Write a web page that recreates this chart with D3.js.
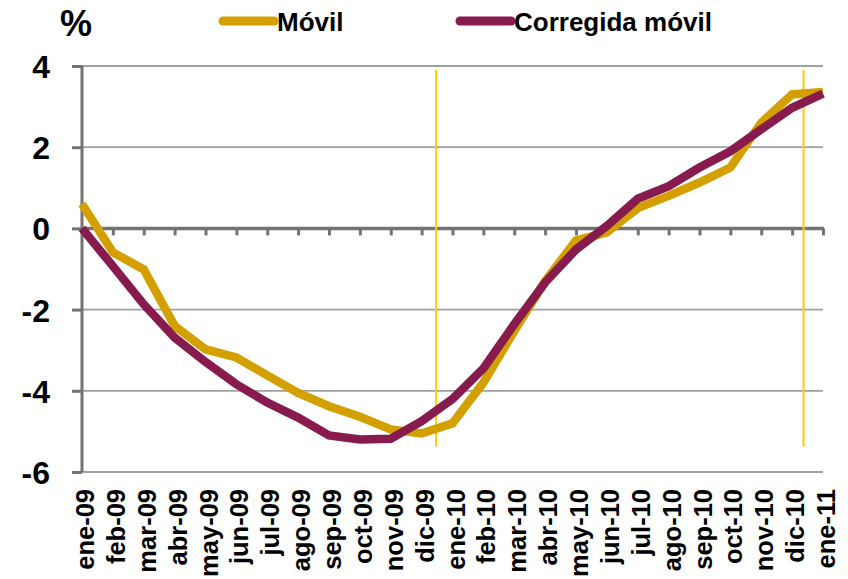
<!DOCTYPE html>
<html><head><meta charset="utf-8">
<script src="https://cdn.jsdelivr.net/npm/d3@7"></script>
<style>
html,body{margin:0;padding:0;background:#fff;}
svg text{font-family:"Liberation Sans",Arial,sans-serif;font-weight:bold;fill:#000;}
</style></head>
<body><svg id="c" width="848" height="579"></svg>
<script>
const categories = ["ene-09","feb-09","mar-09","abr-09","may-09","jun-09","jul-09","ago-09","sep-09","oct-09","nov-09","dic-09",
  "ene-10","feb-10","mar-10","abr-10","may-10","jun-10","jul-10","ago-10","sep-10","oct-10","nov-10","dic-10","ene-11"];
const movil = [0.6,-0.59,-1.01,-2.4,-2.98,-3.18,-3.62,-4.05,-4.38,-4.64,-4.95,-5.05,
  -4.8,-3.8,-2.53,-1.3,-0.3,-0.1,0.5,0.8,1.13,1.5,2.6,3.3,3.36];
const corregida = [0.0,-0.93,-1.87,-2.69,-3.29,-3.84,-4.29,-4.66,-5.1,-5.2,-5.18,-4.75,
  -4.2,-3.45,-2.36,-1.33,-0.52,0.06,0.73,1.04,1.5,1.9,2.44,2.97,3.32];
const yTicks = [4,2,0,-2,-4,-6];
const yTickLabels = ["4","2","0","-2","-4","-6"];
const markerPos = [11.47, 23.37];   // vertical marker positions (category index units)
const markerRange = [3.9, -5.37];
const seriesNames = ["Móvil","Corregida móvil"];
const colors = ["#D3A000","#881B4E"];

const svg = d3.select("#c");
const x = d3.scaleLinear().domain([0, categories.length-1]).range([82, 823]);
const y = d3.scaleLinear().domain([-6, 4]).range([472, 66]);

// gridlines
svg.append("g").selectAll("line").data(yTicks.filter(d=>d!==0)).join("line")
  .attr("x1", 82).attr("x2", 823).attr("y1", d=>y(d)).attr("y2", d=>y(d))
  .attr("stroke", "#a0a0a0").attr("stroke-width", 1.8);

// y axis
const yAxis = svg.append("g").attr("transform", "translate(82,0)")
  .call(d3.axisLeft(y).tickValues(yTicks).tickSize(10).tickPadding(0)
    .tickFormat((d,i)=>yTickLabels[i]));
yAxis.select(".domain").attr("stroke", "#737373").attr("stroke-width", 3).attr("d", `M0,${y(4)}V${y(-6)}`);
yAxis.selectAll(".tick line").attr("stroke", "#737373").attr("stroke-width", 3);
yAxis.selectAll(".tick text").attr("x", -32).attr("font-size", 32).attr("dy", "0.36em")
  .style("font-family", "'Liberation Sans',Arial,sans-serif").style("font-weight", "bold").attr("fill", "#000");

// x axis at zero
const xAxis = svg.append("g").attr("transform", `translate(0,${y(0)})`)
  .call(d3.axisBottom(x).tickValues(d3.range(categories.length)).tickSize(7).tickFormat(""));
xAxis.select(".domain").attr("stroke", "#737373").attr("stroke-width", 3.5).attr("d", `M82,0H824`);
xAxis.selectAll(".tick line").attr("stroke", "#737373").attr("stroke-width", 3);

// category labels
svg.append("g").selectAll("text").data(categories).join("text")
  .attr("transform", (d,i)=>`translate(${x(i)+3},489) rotate(-90)`)
  .attr("text-anchor", "end").attr("dominant-baseline", "central")
  .attr("font-size", 25.5).text(d=>d);

// marker lines
svg.append("g").selectAll("line").data(markerPos).join("line")
  .attr("x1", d=>x(d)).attr("x2", d=>x(d))
  .attr("y1", y(markerRange[0])).attr("y2", y(markerRange[1]))
  .attr("stroke", "#FFCC00").attr("stroke-width", 2);

// series lines
const line = d3.line().x((d,i)=>x(i)).y(d=>y(d));
[movil, corregida].forEach((s,k)=>{
  svg.append("path").datum(s).attr("d", line).attr("fill","none")
    .attr("stroke", colors[k]).attr("stroke-width", 8.5).attr("stroke-linejoin","miter");
});

// title %
svg.append("text").attr("x", 60).attr("y", 36).attr("font-size", 36).text("%");

// legend
const legX = [218, 455];
const leg = svg.append("g");
seriesNames.forEach((n,k)=>{
  leg.append("line").attr("x1", legX[k]+5).attr("x2", legX[k]+56).attr("y1", 21).attr("y2", 21)
    .attr("stroke", colors[k]).attr("stroke-width", 9).attr("stroke-linecap","round");
  leg.append("text").attr("x", legX[k]+59).attr("y", 31).attr("font-size", 26).text(n);
});
</script></body></html>
